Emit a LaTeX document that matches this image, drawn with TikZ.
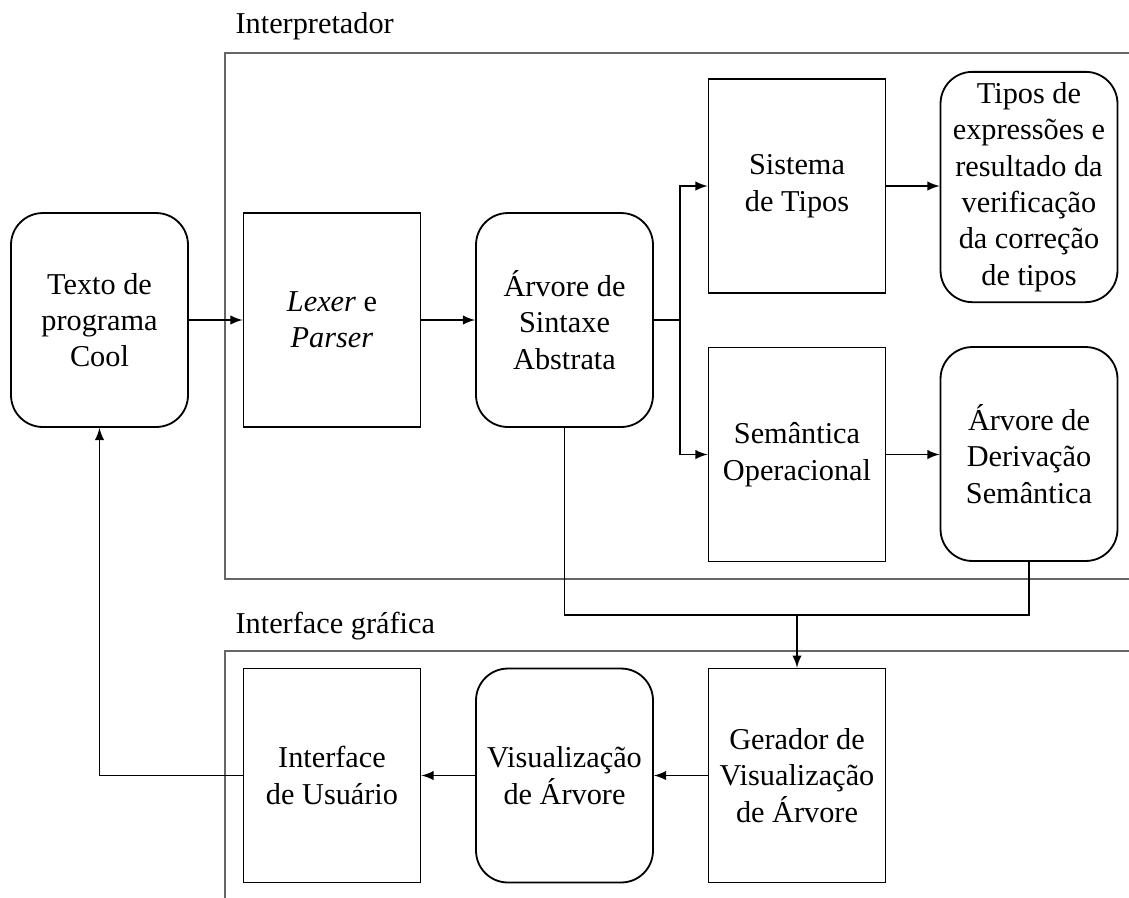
\documentclass[tikz,border=0pt]{standalone}
\usepackage{fontspec}
\setmainfont{Liberation Serif}
\begin{document}
\begin{tikzpicture}[x=0.33pt,y=-0.33pt,
 blk/.style={draw, line width=0.6pt, minimum width=58.4pt, minimum height=70.6pt, align=center, inner sep=1pt, font=\fontsize{10}{12}\selectfont},
 rblk/.style={blk, rounded corners=10.5pt},
 conn/.style={line width=0.4pt, -latex},
 plain/.style={line width=0.4pt},
 frame/.style={draw=black!60, line width=0.5pt},
 lbl/.style={anchor=base west, inner sep=0pt, font=\fontsize{10}{12}\selectfont}]
\useasboundingbox (0,0) rectangle (1129,897);
\begin{scope}
\clip (0,0) rectangle (1129,897);
\draw[frame] (1140,53) -- (225,53) -- (225,579) -- (1140,579);
\draw[frame] (1140,651) -- (225,651) -- (225,910);
\end{scope}
\node[lbl] (linterp) at (235,33) {Interpretador};
\node[lbl] (lgui) at (235,633) {Interface gráfica};

\node[rblk] (texto) at (99.5,320) {Texto de\\programa\\Cool};
\node[blk] (lexer) at (332,320) {\textit{Lexer} e\\\textit{Parser}};
\node[rblk] (ast) at (564.5,320) {Árvore de\\Sintaxe\\Abstrata};
\node[blk] (sis) at (797,186) {Sistema\\de Tipos};
\node[rblk, minimum height=76pt] (tipos) at (1029,187) {Tipos de\\expressões e\\resultado da\\verificação\\da correção\\de tipos};
\node[blk] (sem) at (797,454.5) {Semântica\\Operacional};
\node[rblk] (der) at (1029,454) {Árvore de\\Derivação\\Semântica};
\node[blk] (iu) at (332,775.5) {Interface\\de Usuário};
\node[rblk] (vis) at (564.5,775.5) {Visualização\\de Árvore};
\node[blk] (ger) at (797,775.5) {Gerador de\\Visualização\\de Árvore};

\coordinate (br) at (680,320);
\coordinate (j) at (797,615);
\draw[conn] (texto.east) -- (lexer.west);
\draw[conn] (lexer.east) -- (ast.west);
\draw[conn] (ast.east) -- (br) |- (sis.west);
\draw[conn] (br) |- (sem.west);
\draw[conn] (sis.east) -- (sis.east -| tipos.west);
\draw[conn] (sem.east) -- (sem.east -| der.west);
\draw[plain] (ast.south) |- (j) -| (der.south);
\draw[conn] (j) -- (ger.north);
\draw[conn] (ger.west) -- (vis.east);
\draw[conn] (vis.west) -- (iu.east);
\draw[conn] (iu.west) -| (texto.south);
\end{tikzpicture}
\end{document}
